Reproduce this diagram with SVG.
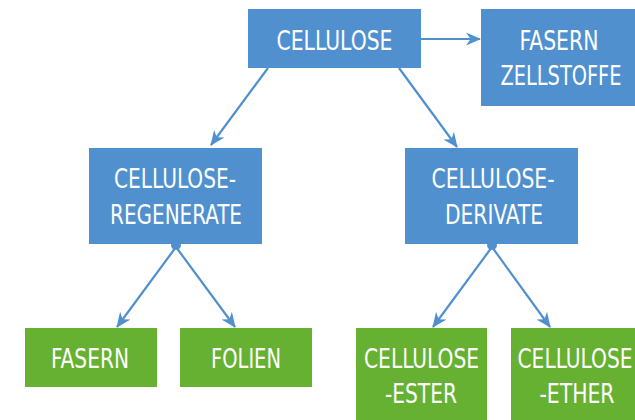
<svg xmlns="http://www.w3.org/2000/svg" width="635" height="420" viewBox="0 0 635 420">
<defs>
<style>
.b{fill:#5090CF}
.g{fill:#66B132}
.t{font-family:"Liberation Sans Narrow","DejaVu Sans Condensed","Liberation Sans",sans-serif;font-size:27px;fill:#fff;text-anchor:middle}
.c{stroke:#5090CF;stroke-width:2.2;fill:none}
</style>
<marker id="ah" markerUnits="userSpaceOnUse" markerWidth="16" markerHeight="16" refX="14" refY="8" orient="auto">
<path d="M0,1.5 L15,8 L0,14.5 L4.5,8 z" fill="#5090CF"/>
</marker>
</defs>
<rect width="635" height="420" fill="#fff"/>
<g id="connectors">
<line class="c" x1="421" y1="39" x2="480" y2="39" marker-end="url(#ah)"/>
<line class="c" x1="268" y1="68" x2="211" y2="145" marker-end="url(#ah)"/>
<line class="c" x1="399" y1="68" x2="457" y2="147" marker-end="url(#ah)"/>
<line class="c" x1="176" y1="247" x2="117" y2="327" marker-end="url(#ah)"/>
<line class="c" x1="176" y1="247" x2="235" y2="327" marker-end="url(#ah)"/>
<line class="c" x1="492" y1="247" x2="433" y2="327" marker-end="url(#ah)"/>
<line class="c" x1="492" y1="247" x2="550" y2="327" marker-end="url(#ah)"/>
<circle cx="176" cy="245" r="5" fill="#5090CF"/>
<circle cx="492" cy="245" r="5" fill="#5090CF"/>
</g>
<g id="cellulose">
<rect class="b" x="248" y="9" width="173" height="59"/>
<text class="t" x="334.5" y="50" textLength="116" lengthAdjust="spacingAndGlyphs">CELLULOSE</text>
</g>
<g id="fasern-zellstoffe">
<rect class="b" x="481" y="9" width="160" height="97"/>
<text class="t" x="559" y="50" textLength="79" lengthAdjust="spacingAndGlyphs">FASERN</text>
<text class="t" x="561" y="85" textLength="121" lengthAdjust="spacingAndGlyphs">ZELLSTOFFE</text>
</g>
<g id="regenerate">
<rect class="b" x="89" y="148" width="173" height="96"/>
<text class="t" x="175" y="188" textLength="122" lengthAdjust="spacingAndGlyphs">CELLULOSE-</text>
<text class="t" x="176" y="224" textLength="132" lengthAdjust="spacingAndGlyphs">REGENERATE</text>
</g>
<g id="derivate">
<rect class="b" x="405" y="148" width="173" height="96"/>
<text class="t" x="493" y="188" textLength="123" lengthAdjust="spacingAndGlyphs">CELLULOSE-</text>
<text class="t" x="494" y="224" textLength="98" lengthAdjust="spacingAndGlyphs">DERIVATE</text>
</g>
<g id="fasern">
<rect class="g" x="25" y="328" width="132" height="59"/>
<text class="t" x="90" y="368" textLength="78" lengthAdjust="spacingAndGlyphs">FASERN</text>
</g>
<g id="folien">
<rect class="g" x="180" y="328" width="132" height="59"/>
<text class="t" x="246" y="368" textLength="70" lengthAdjust="spacingAndGlyphs">FOLIEN</text>
</g>
<g id="ester">
<rect class="g" x="356" y="328" width="131" height="95"/>
<text class="t" x="421.5" y="368" textLength="115" lengthAdjust="spacingAndGlyphs">CELLULOSE</text>
<text class="t" x="421" y="403" textLength="72" lengthAdjust="spacingAndGlyphs">-ESTER</text>
</g>
<g id="ether">
<rect class="g" x="511" y="328" width="131" height="95"/>
<text class="t" x="575" y="368" textLength="115" lengthAdjust="spacingAndGlyphs">CELLULOSE</text>
<text class="t" x="577" y="403" textLength="75" lengthAdjust="spacingAndGlyphs">-ETHER</text>
</g>
</svg>
